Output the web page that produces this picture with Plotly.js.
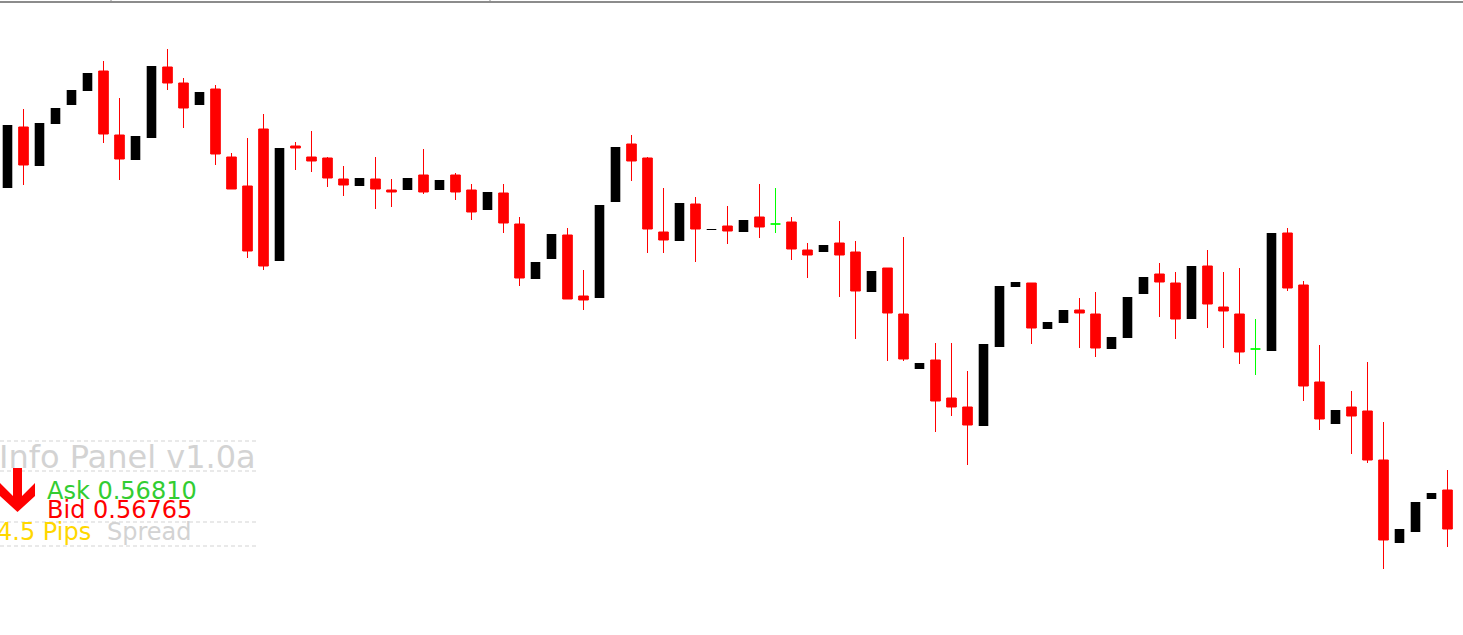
<!DOCTYPE html>
<html>
<head>
<meta charset="utf-8">
<script src="https://cdn.plot.ly/plotly-3.0.1.min.js"></script>
<style>html,body{margin:0;padding:0;background:#fff;overflow:hidden}#chart{width:1463px;height:635px}</style>
</head>
<body>
<div id="chart"></div>
<script>
// ---- data ----
const openP = [
  0.57106,0.57167,0.57128,0.57170,0.57189,0.57203,0.57223,0.57159,0.57134,0.57156,
  0.57227,0.57211,0.57189,0.57205,0.57137,0.57108,0.57165,0.57033,0.57148,0.57137,
  0.57136,0.57115,0.57108,0.57115,0.57104,0.57104,0.57119,0.57104,0.57119,0.57104,
  0.57084,0.57101,0.57070,0.57015,0.57035,0.57059,0.56998,0.56996,0.57092,0.57150,
  0.57136,0.57062,0.57053,0.57090,0.57064,0.57068,0.57062,0.57077,0.57070,0.57072,
  0.57044,0.57042,0.57051,0.57042,0.57002,0.57026,0.56980,0.56925,0.56934,0.56896,
  0.56887,0.56868,0.56947,0.57007,0.57011,0.56965,0.56971,0.56984,0.56980,0.56945,
  0.56956,0.57000,0.57020,0.57011,0.56975,0.57028,0.56987,0.56980,0.56945,0.56943,
  0.57061,0.57009,0.56912,0.56870,0.56887,0.56883,0.56834,0.56751,0.56762,0.56795,
  0.56804
];
const highP = [
  0.57169,0.57185,0.57171,0.57186,0.57204,0.57221,0.57233,0.57196,0.57158,0.57228,
  0.57245,0.57216,0.57202,0.57209,0.57141,0.57156,0.57180,0.57146,0.57152,0.57163,
  0.57137,0.57128,0.57116,0.57137,0.57115,0.57116,0.57145,0.57114,0.57121,0.57110,
  0.57102,0.57110,0.57077,0.57032,0.57060,0.57066,0.57024,0.57089,0.57147,0.57159,
  0.57137,0.57106,0.57091,0.57097,0.57065,0.57088,0.57074,0.57110,0.57106,0.57077,
  0.57051,0.57049,0.57073,0.57053,0.57023,0.57026,0.57057,0.56931,0.56951,0.56951,
  0.56923,0.56950,0.57008,0.57012,0.57011,0.56972,0.56984,0.56996,0.57002,0.56957,
  0.56997,0.57017,0.57031,0.57022,0.57028,0.57044,0.57022,0.57026,0.56975,0.57061,
  0.57066,0.57013,0.56949,0.56884,0.56903,0.56932,0.56872,0.56765,0.56792,0.56801,
  0.56824
];
const lowP = [
  0.57106,0.57109,0.57128,0.57170,0.57189,0.57203,0.57151,0.57114,0.57134,0.57156,
  0.57204,0.57166,0.57189,0.57129,0.57105,0.57036,0.57024,0.57033,0.57124,0.57122,
  0.57107,0.57098,0.57108,0.57085,0.57087,0.57104,0.57100,0.57104,0.57094,0.57074,
  0.57084,0.57061,0.57008,0.57015,0.57035,0.56995,0.56984,0.56996,0.57092,0.57113,
  0.57041,0.57041,0.57053,0.57032,0.57064,0.57050,0.57062,0.57056,0.57061,0.57034,
  0.57016,0.57042,0.56997,0.56955,0.57002,0.56933,0.56933,0.56925,0.56862,0.56878,
  0.56829,0.56868,0.56947,0.57007,0.56950,0.56965,0.56971,0.56946,0.56937,0.56945,
  0.56956,0.57000,0.56977,0.56955,0.56975,0.56966,0.56946,0.56930,0.56919,0.56943,
  0.57003,0.56893,0.56864,0.56870,0.56840,0.56831,0.56725,0.56751,0.56762,0.56795,
  0.56747
];
const closeP = [
  0.57169,0.57129,0.57171,0.57186,0.57204,0.57221,0.57160,0.57135,0.57158,0.57228,
  0.57211,0.57186,0.57202,0.57140,0.57105,0.57043,0.57028,0.57146,0.57146,0.57133,
  0.57116,0.57109,0.57116,0.57105,0.57102,0.57116,0.57102,0.57114,0.57102,0.57082,
  0.57102,0.57071,0.57016,0.57032,0.57060,0.56995,0.56994,0.57089,0.57147,0.57133,
  0.57065,0.57054,0.57091,0.57065,0.57065,0.57063,0.57074,0.57067,0.57070,0.57045,
  0.57039,0.57049,0.57039,0.57003,0.57023,0.56981,0.56935,0.56931,0.56893,0.56887,
  0.56869,0.56950,0.57008,0.57012,0.56966,0.56972,0.56984,0.56981,0.56946,0.56957,
  0.56997,0.57017,0.57012,0.56975,0.57028,0.56990,0.56983,0.56942,0.56945,0.57061,
  0.57006,0.56908,0.56875,0.56884,0.56878,0.56834,0.56754,0.56765,0.56792,0.56801,
  0.56765
];
const panelTitle = "Info Panel v1.0a";
const askText = "Ask 0.56810";
const bidText = "Bid 0.56765";
const spreadPips = "4.5 Pips";
const spreadLabel = "Spread";

// ---- build traces ----
const W = 1463, H = 635;
const idx = openP.map((_, i) => i);
const main = {x: [], open: [], high: [], low: [], close: []};
const doji = {x: [], open: [], high: [], low: [], close: []};
idx.forEach(i => {
  const t = (openP[i] === closeP[i]) ? doji : main;
  t.x.push(i); t.open.push(openP[i]); t.high.push(highP[i]);
  t.low.push(lowP[i]); t.close.push(closeP[i]);
});

const traces = [
  Object.assign({
    type: 'candlestick',
    increasing: {fillcolor: '#000000', line: {color: 'rgba(0,0,0,0)', width: 1}},
    decreasing: {fillcolor: '#ff0000', line: {color: '#ff0000', width: 1}},
    whiskerwidth: 0, hoverinfo: 'skip', showlegend: false
  }, main),
  Object.assign({
    type: 'candlestick',
    increasing: {fillcolor: '#00ff00', line: {color: '#00ff00', width: 1}},
    decreasing: {fillcolor: '#00ff00', line: {color: '#00ff00', width: 1}},
    whiskerwidth: 0, hoverinfo: 'skip', showlegend: false
  }, doji)
];

const px = x => x / W;
const py = y => 1 - y / H;
const lightGray = '#d3d3d3';
const font = 'DejaVu Sans, Verdana, sans-serif';

const shapes = [];
// top border
shapes.push({type: 'line', xref: 'paper', yref: 'paper', x0: 0, x1: 1, y0: py(2), y1: py(2),
  line: {color: '#8c8c8c', width: 2}});
[111, 490].forEach(x => shapes.push({type: 'line', xref: 'paper', yref: 'paper',
  x0: px(x), x1: px(x), y0: py(0), y1: py(2), line: {color: '#8c8c8c', width: 1}}));
// dashed separators of the panel
[441, 471, 522, 546].forEach(y => shapes.push({type: 'line', xref: 'paper', yref: 'paper',
  x0: 0, x1: px(256), y0: py(y), y1: py(y), line: {color: lightGray, width: 1, dash: '4px,3px'}}));
// down arrow
const arrowPts = [[13,468],[22,468],[22,496],[35,483],[35,496],[17.5,512],[0,496],[0,483],[13,496]];
shapes.push({type: 'path', xref: 'paper', yref: 'paper',
  path: 'M' + arrowPts.map(p => px(p[0]) + ',' + py(p[1])).join('L') + 'Z',
  fillcolor: '#ff0000', line: {width: 0}});

function ann(text, x, y, size, color, xanchor) {
  return {text: text, xref: 'paper', yref: 'paper', x: px(x), y: py(y), xanchor: xanchor || 'left',
    yanchor: 'middle', showarrow: false, borderpad: 0, font: {family: font, size: size, color: color}};
}
const annotations = [
  ann(panelTitle, -2, 456.5, 32, lightGray),
  ann(askText, 46, 490.5, 24, '#32cd32'),
  ann(bidText, 46, 509.5, 24, '#ff0000'),
  ann(spreadPips, 92, 532, 24, '#ffd700', 'right'),
  ann(spreadLabel, 106, 532, 24, lightGray)
];

const layout = {
  width: W, height: H,
  margin: {l: 0, r: 0, t: 0, b: 0, pad: 0},
  paper_bgcolor: '#ffffff', plot_bgcolor: '#ffffff',
  showlegend: false,
  boxgap: 0.4, boxgroupgap: 0,
  xaxis: {range: [-0.46875, 90.96875], visible: false, rangeslider: {visible: false}, fixedrange: true},
  yaxis: {range: [0.56659, 0.57294], visible: false, fixedrange: true},
  shapes: shapes,
  annotations: annotations
};
Plotly.newPlot('chart', traces, layout, {staticPlot: true, displayModeBar: false});
</script>
</body>
</html>
